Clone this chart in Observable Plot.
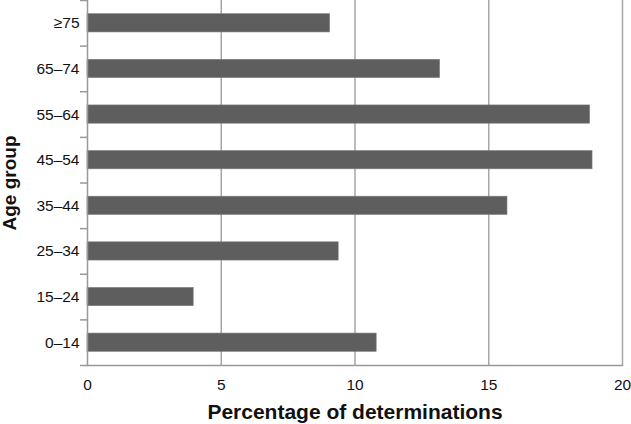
<!DOCTYPE html>
<html><head><meta charset="utf-8">
<script src="https://cdn.jsdelivr.net/npm/d3@7"></script>
<script src="https://cdn.jsdelivr.net/npm/@observablehq/plot@0.6"></script>
<style>
body{margin:0;background:#fff;font-family:"Liberation Sans",Arial,sans-serif}
#chart svg text{font-size:15.5px !important;fill:#111 !important}
#chart svg g[aria-label="x-axis label"] text{font-size:21px !important;font-weight:bold !important}
#chart svg g[aria-label="y-axis label"] text{font-size:19px !important;font-weight:bold !important}
</style>
</head><body><div id="chart"></div>
<script>
const ageGroups = ["≥75","65–74","55–64","45–54","35–44","25–34","15–24","0–14"];
const percentages = [9.07,13.18,18.79,18.88,15.70,9.39,3.97,10.81];
const xTicks = [0,5,10,15,20];
const gridTicks = [5,10,15,20];

const data = ageGroups.map((g,i)=>({group:g, value:percentages[i]}));
const W = 631, H = 424, mt = 0, mb = 59, ml = 87, mr = 9;
const half = (H - mt - mb) / ageGroups.length / 2;

const chart = Plot.plot({
  width: W, height: H,
  marginTop: mt, marginBottom: mb, marginLeft: ml, marginRight: mr,
  style: {fontFamily: '"Liberation Sans", Arial, sans-serif', fontSize: "15.5px", color: "#111", background: "#fff", overflow: "visible"},
  x: {domain: [0,20], ticks: xTicks, label: null},
  y: {domain: ageGroups, paddingInner: 0.6, paddingOuter: 0.3, label: null, round: false},
  marks: [
    Plot.ruleX(gridTicks, {stroke: "#a6a6a6", strokeWidth: 1.5}),
    Plot.barX(data, {y: "group", x: "value", fill: "#5e5e5e", stroke: "#7c7c7c", strokeWidth: 0.6}),
    Plot.frame({anchor: "left", stroke: "#999", strokeWidth: 1.5}),
    Plot.frame({anchor: "bottom", stroke: "#999", strokeWidth: 1.5}),
    Plot.axisY({tickSize: 7, text: null, label: null, dy: -half, stroke: "#999", strokeWidth: 1.5, strokeOpacity: 1}),
    Plot.axisY([ageGroups[ageGroups.length-1]], {tickSize: 7, text: null, label: null, dy: half, stroke: "#999", strokeWidth: 1.5, strokeOpacity: 1}),
    Plot.axisX({ticks: xTicks, tickSize: 0, tickPadding: 13, fontSize: 15.5, label: "Percentage of determinations", labelArrow: "none", labelAnchor: "center", labelOffset: 53}),
    Plot.axisY({tickSize: 0, tickPadding: 8, fontSize: 15.5, label: "Age group", labelArrow: "none", labelAnchor: "center", labelOffset: 85})
  ]
});
document.getElementById("chart").appendChild(chart);
</script></body></html>
